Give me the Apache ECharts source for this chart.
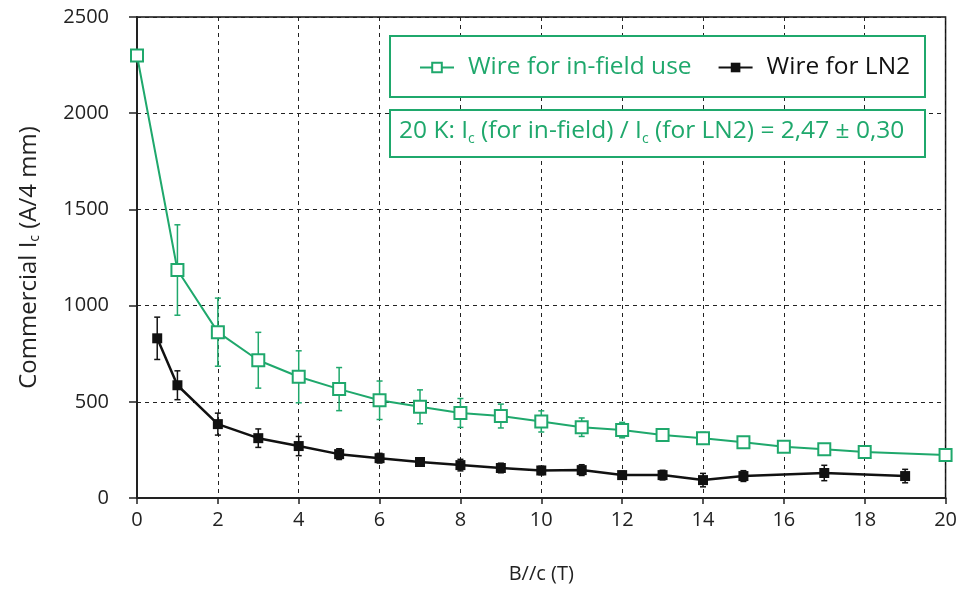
<!DOCTYPE html>
<html>
<head>
<meta charset="utf-8">
<script src="https://cdn.jsdelivr.net/npm/echarts@6/dist/echarts.min.js"></script>
<style>
  html, body { margin: 0; padding: 0; background: #fff; }
  #main { width: 960px; height: 589px; }
</style>
</head>
<body>
<div id="main"></div>
<script>
// wire for in-field use (green)
const fieldB = [0, 1, 2, 3, 4, 5, 6, 7, 8, 9, 10, 11, 12, 13, 14, 15, 16, 17, 18, 20];
const fieldIc = [2300, 1185, 862, 716, 630, 566, 508, 474, 442, 426, 398, 368, 353, 327, 311, 290, 266, 254, 239, 224];
const fieldErr = [0, 235, 177, 145, 135, 112, 100, 88, 75, 62, 55, 48, 40, 32, 30, 22, 18, 16, 15, 0];

// wire for LN2 (black)
const ln2B = [0.5, 1, 2, 3, 4, 5, 6, 7, 8, 9, 10, 11, 12, 13, 14, 15, 17, 19];
const ln2Ic = [830, 586, 384, 311, 270, 228, 207, 187, 171, 156, 143, 145, 119, 119, 93, 114, 130, 114];
const ln2Err = [110, 75, 57, 48, 50, 28, 25, 20, 30, 25, 22, 28, 20, 25, 35, 28, 40, 35];

const GREEN = '#1fa86c';
const FONT = 'Open Sans';

let chart = echarts.init(document.getElementById('main'));

function pts(xs, ys) {
  return xs.map((x, i) => [x, ys[i]]);
}
function errs(xs, ys, es) {
  return xs.map((x, i) => [x, ys[i] - es[i], ys[i] + es[i]]);
}

// vertical error bar with caps
function errorBar(color) {
  return function (params, api) {
    let x = api.value(0);
    let top = api.coord([x, api.value(2)]);
    let bot = api.coord([x, api.value(1)]);
    let w = 3;
    let style = { stroke: color, lineWidth: 1.5 };
    return {
      type: 'group',
      children: [
        { type: 'line', shape: { x1: top[0], y1: top[1], x2: bot[0], y2: bot[1] }, style: style },
        { type: 'line', shape: { x1: top[0] - w, y1: top[1], x2: top[0] + w, y2: top[1] }, style: style },
        { type: 'line', shape: { x1: bot[0] - w, y1: bot[1], x2: bot[0] + w, y2: bot[1] }, style: style },
      ],
    };
  };
}

let option = {
  animation: false,
  textStyle: { fontFamily: FONT },
  grid: {
    left: 137,
    right: 13,
    top: 17,
    bottom: 91,
    show: true,
    borderColor: '#111',
    borderWidth: 1.5,
  },
  legend: {
    left: 414,
    top: 50,
    z: 10,
    itemWidth: 34,
    itemHeight: 12,
    itemGap: 26,
    textStyle: { fontFamily: FONT, fontSize: 24.5, padding: [0, 0, 0, 9] },
    data: [
      { name: 'Wire for in-field use', textStyle: { color: GREEN } },
      { name: 'Wire for LN2', textStyle: { color: '#111' } },
    ],
  },
  graphic: [
    {
      type: 'rect',
      shape: { x: 390, y: 36, width: 535, height: 61 },
      style: { fill: '#fff', stroke: GREEN, lineWidth: 2 },
      z: 5,
    },
    {
      type: 'rect',
      shape: { x: 390, y: 110, width: 535, height: 47 },
      style: { fill: '#fff', stroke: GREEN, lineWidth: 2 },
      z: 5,
    },
    {
      type: 'text',
      left: 399,
      top: 117,
      z: 6,
      style: {
        text: '{t|20 K: I}{s|c}{t| (for in-field) / I}{s|c}{t| (for LN2) = 2,47 ± 0,30}',
        fill: GREEN,
        rich: {
          t: { fontFamily: FONT, fontSize: 24.5, fill: GREEN, lineHeight: 32 },
          s: { fontFamily: FONT, fontSize: 14, fill: GREEN, padding: [15, 0, 0, 0], lineHeight: 32 },
        },
      },
    },
  ],
  xAxis: {
    type: 'value',
    min: 0,
    max: 20,
    interval: 2,
    name: 'B//c (T)',
    nameLocation: 'middle',
    nameGap: 66,
    nameTextStyle: { fontSize: 20, color: '#222', fontFamily: FONT },
    axisLine: { onZero: false, lineStyle: { color: '#222', width: 2 } },
    axisTick: { length: 6, lineStyle: { color: '#222', width: 1.5 } },
    axisLabel: { fontSize: 20, color: '#222', margin: 12 },
    splitLine: { lineStyle: { color: '#222', type: [4, 4], width: 1 } },
  },
  yAxis: {
    type: 'value',
    min: 0,
    max: 2500,
    interval: 500,
    name: '{t|Commercial I}{s|c}{t| (A/4 mm)}',
    nameLocation: 'middle',
    nameGap: 94,
    nameTextStyle: {
      rich: {
        t: { fontFamily: FONT, fontSize: 24, color: '#222', lineHeight: 28 },
        s: { fontFamily: FONT, fontSize: 14, color: '#222', padding: [13, 0, 0, 0], lineHeight: 28 },
      },
    },
    axisLine: { show: true, lineStyle: { color: '#222', width: 2 } },
    axisTick: { show: true, length: 8, lineStyle: { color: '#222', width: 1.5 } },
    axisLabel: { fontSize: 20, color: '#222', margin: 28, formatter: v => String(v) },
    splitLine: { lineStyle: { color: '#222', type: [4, 4], width: 1 } },
  },
  series: [
    {
      name: 'Wire for in-field use',
      type: 'line',
      data: pts(fieldB, fieldIc),
      symbol: 'emptyRect',
      symbolSize: 12,
      lineStyle: { color: GREEN, width: 2 },
      itemStyle: { color: GREEN, borderWidth: 2 },
      z: 3,
    },
    {
      name: 'field-err',
      type: 'custom',
      renderItem: errorBar(GREEN),
      data: errs(fieldB, fieldIc, fieldErr),
      encode: { x: 0, y: [1, 2] },
      z: 2,
    },
    {
      name: 'Wire for LN2',
      type: 'line',
      data: pts(ln2B, ln2Ic),
      symbol: 'rect',
      symbolSize: 10,
      lineStyle: { color: '#111', width: 2.5 },
      itemStyle: { color: '#111' },
      z: 3,
    },
    {
      name: 'ln2-err',
      type: 'custom',
      renderItem: errorBar('#111'),
      data: errs(ln2B, ln2Ic, ln2Err),
      encode: { x: 0, y: [1, 2] },
      z: 2,
    },
  ],
};
chart.setOption(option);
</script>
</body>
</html>
